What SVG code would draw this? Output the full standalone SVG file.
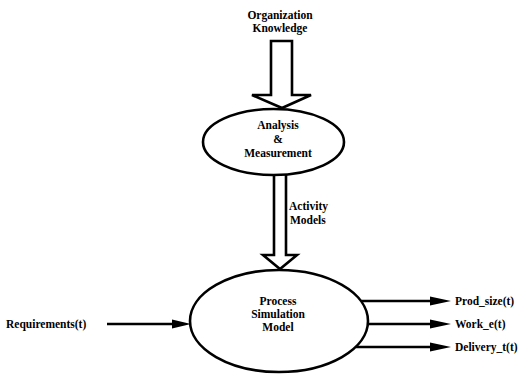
<svg xmlns="http://www.w3.org/2000/svg" width="526" height="375" viewBox="0 0 526 375">
<style>
text{font-family:'Liberation Serif','DejaVu Serif',serif;font-weight:bold;font-size:11.5px;fill:#000}
.c{text-anchor:middle}
.shape{fill:#fff;stroke:#000;stroke-width:2.6}
.ln{stroke:#000;stroke-width:2.6;fill:none}
.ah{fill:#000;stroke:none}
</style>
<rect width="526" height="375" fill="#fff"/>
<g id="org-knowledge">
<text class="c" x="280" y="19">Organization</text>
<text class="c" x="280" y="32">Knowledge</text>
</g>
<g id="connectors">
<path class="shape" d="M271,95 V41 H292 V95 H311 L282,108 L252,95 Z"/>
<path class="shape" d="M274,174 V255 H263 L280,269 L297,255 H286 V174"/>
<line class="ln" x1="107" y1="324" x2="174" y2="324"/>
<polygon class="ah" points="172,319.5 191,324 172,328.5"/>
<line class="ln" x1="361" y1="301" x2="432" y2="301"/>
<polygon class="ah" points="430,296.5 451,301 430,305.5"/>
<line class="ln" x1="367" y1="324" x2="432" y2="324"/>
<polygon class="ah" points="430,319.5 451,324 430,328.5"/>
<line class="ln" x1="356" y1="347" x2="432" y2="347"/>
<polygon class="ah" points="430,342.5 451,347 430,351.5"/>
</g>
<g id="activity-models">
<text x="289" y="210">Activity</text>
<text x="290" y="224">Models</text>
</g>
<g id="analysis">
<ellipse class="shape" cx="273.5" cy="142" rx="70.5" ry="33"/>
<text class="c" x="278" y="129">Analysis</text>
<text class="c" x="278" y="143">&amp;</text>
<text class="c" x="278" y="157">Measurement</text>
</g>
<g id="process">
<ellipse class="shape" cx="279" cy="321" rx="89" ry="51"/>
<text class="c" x="278" y="305">Process</text>
<text class="c" x="278" y="318">Simulation</text>
<text class="c" x="278" y="331">Model</text>
</g>
<g id="requirements">
<text x="6" y="328">Requirements(t)</text>
</g>
<g id="outputs">
<text x="455" y="305">Prod_size(t)</text>
<text x="455" y="328">Work_e(t)</text>
<text x="455" y="351">Delivery_t(t)</text>
</g>
</svg>
